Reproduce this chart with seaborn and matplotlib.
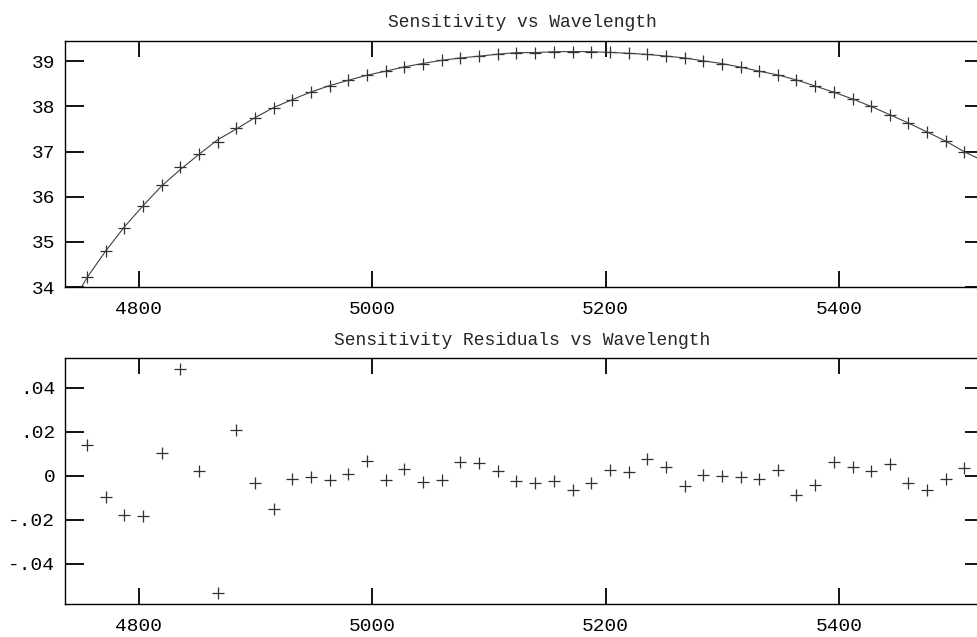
import matplotlib
matplotlib.use("Agg")
import matplotlib.pyplot as plt
import seaborn as sns
import numpy as np
import pandas as pd

# ---- data ----
wave = [4755.7, 4771.5, 4787.4, 4803.7, 4819.5, 4835.4, 4851.4, 4867.5, 4883.4, 4899.4,
        4915.5, 4931.4, 4947.4, 4963.5, 4979.4, 4995.4, 5011.5, 5027.4, 5043.4, 5059.5,
        5075.4, 5091.4, 5107.5, 5123.4, 5139.7, 5155.7, 5171.7, 5187.7, 5203.7, 5219.7,
        5235.7, 5251.7, 5267.7, 5283.7, 5299.7, 5315.7, 5331.4, 5347.7, 5363.4, 5379.4,
        5395.7, 5411.7, 5427.7, 5443.7, 5459.4, 5475.4, 5491.5, 5507.4]
sens = [34.23, 34.79, 35.31, 35.79, 36.25, 36.65, 36.94, 37.21, 37.52, 37.75,
        37.96, 38.15, 38.32, 38.46, 38.58, 38.70, 38.78, 38.88, 38.95, 39.02,
        39.08, 39.12, 39.16, 39.19, 39.19, 39.21, 39.21, 39.21, 39.20, 39.18,
        39.16, 39.12, 39.07, 39.01, 38.95, 38.87, 38.78, 38.70, 38.58, 38.45,
        38.32, 38.17, 38.00, 37.82, 37.63, 37.43, 37.23, 37.00]
resid = [0.0140, -0.0095, -0.0177, -0.0185, 0.0102, 0.0486, 0.0023, -0.0532, 0.0209, -0.0032,
         -0.0153, -0.0015, -0.0007, -0.0018, 0.0008, 0.0067, -0.0021, 0.0029, -0.0030, -0.0020,
         0.0061, 0.0058, 0.0023, -0.0026, -0.0033, -0.0026, -0.0066, -0.0035, 0.0026, 0.0018,
         0.0075, 0.0040, -0.0045, 0.0002, -0.0003, -0.0005, -0.0015, 0.0025, -0.0086, -0.0041,
         0.0061, 0.0041, 0.0020, 0.0052, -0.0035, -0.0064, -0.0015, 0.0034]
# fit curve beyond the first/last points (read at the panel edges)
edge_wave = [4737.0, 5524.0]
edge_fit = [33.40, 36.79]

x_ticks = [4800, 5000, 5200, 5400]
top_yticks = [34, 35, 36, 37, 38, 39]
bot_yticks = [-0.04, -0.02, 0.0, 0.02, 0.04]
bot_ylabels = ["-.04", "-.02", "0", ".02", ".04"]
top_title = "Sensitivity vs Wavelength"
bot_title = "Sensitivity Residuals vs Wavelength"

# ---- build frames ----
pts = pd.DataFrame({"wave": wave, "sens": sens, "resid": resid})
pts["fit"] = pts["sens"] - pts["resid"]
fit = pd.concat([
    pd.DataFrame({"wave": [edge_wave[0]], "fit": [edge_fit[0]]}),
    pts[["wave", "fit"]],
    pd.DataFrame({"wave": [edge_wave[1]], "fit": [edge_fit[1]]}),
], ignore_index=True)

sns.set_theme(style="white")
plt.rcParams["font.family"] = ["Liberation Mono", "DejaVu Sans Mono"]

W, H = 977, 637
fig = plt.figure(figsize=(W / 100, H / 100), dpi=100)
fig.patch.set_facecolor("white")

def px_axes(left, top, right, bottom):
    return fig.add_axes([left / W, 1 - bottom / H, (right - left) / W, (bottom - top) / H])

ax1 = px_axes(65, 41, 984, 287)
ax2 = px_axes(65, 357.7, 984, 604)

mk_color = "#303030"
sns.lineplot(data=fit, x="wave", y="fit", ax=ax1, color="#404040", lw=0.8,
             estimator=None, sort=True)
sns.scatterplot(data=pts, x="wave", y="sens", ax=ax1, marker="+", s=80,
                color=mk_color, linewidth=0.9)
sns.scatterplot(data=pts, x="wave", y="resid", ax=ax2, marker="+", s=80,
                color=mk_color, linewidth=0.9)

for ax in (ax1, ax2):
    ax.set_xlim(4736.6, 5524.3)
    ax.set_xticks(x_ticks)
    ax.set_xticklabels([str(v) for v in x_ticks])
    ax.set_xlabel("")
    ax.set_ylabel("")
    ax.tick_params(axis="x", direction="in", length=11.5, width=1.3, top=True,
                   bottom=True, labelsize=14, pad=10, colors="black")
    ax.tick_params(axis="y", direction="in", length=13.9, width=1.3, left=True,
                   right=True, labelsize=14, pad=7, colors="black")
    for sp in ax.spines.values():
        sp.set_visible(True)
        sp.set_color("black")
        sp.set_linewidth(1.0)
    ax.set_facecolor("white")

ax1.set_ylim(34, 39.45)
ax1.set_yticks(top_yticks)
ax1.set_yticklabels([str(v) for v in top_yticks])
ax2.set_ylim(-0.0583, 0.0536)
ax2.set_yticks(bot_yticks)
ax2.set_yticklabels(bot_ylabels)

ax1.set_title(top_title, fontsize=13, pad=10, x=(522 - 65) / (984 - 65))
ax2.set_title(bot_title, fontsize=13, pad=9, x=(522.5 - 65) / (984 - 65))

fig.savefig("out.png", dpi=100)
